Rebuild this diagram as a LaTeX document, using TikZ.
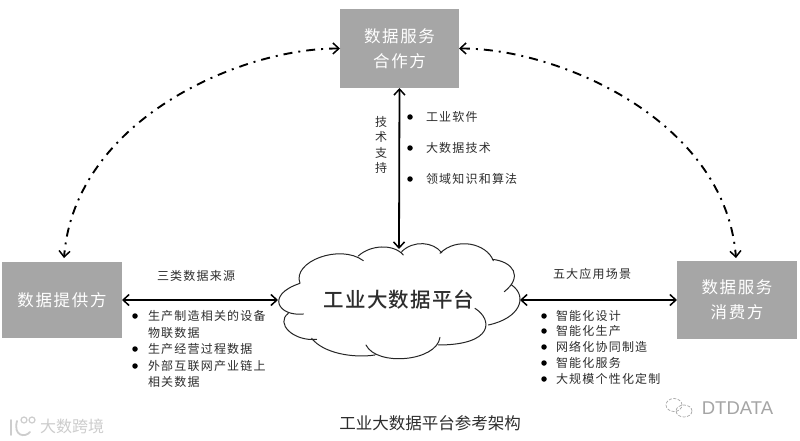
\documentclass[tikz,border=0pt]{standalone}
\usepackage{fontspec}
\setmainfont{Noto Sans CJK SC}
\newfontfamily\lsfont[LetterSpace=10]{Noto Sans CJK SC}
\newfontfamily\lsbold[LetterSpace=6]{Noto Sans CJK SC Medium}
\newfontfamily\latinf{Liberation Sans}
\usetikzlibrary{arrows.meta}
\definecolor{boxgray}{RGB}{166,166,166}
\definecolor{txt}{RGB}{45,45,45}
\definecolor{wm}{RGB}{205,205,205}
\definecolor{wmd}{RGB}{165,165,165}
\tikzset{
  every node/.style={inner sep=0pt,outer sep=0pt,text=txt},
  boxn/.style={fill=boxgray,text=white,align=center,font=\lsfont\fontsize{16.5}{25}\selectfont},
  lab/.style={font=\lsfont\fontsize{12}{13}\selectfont,anchor=west},
  item/.style={font=\lsfont\fontsize{12}{13}\selectfont,anchor=west},
  dotn/.style={circle,fill=black,minimum size=5.5pt},
  solidarrow/.style={draw=black,line width=1.8pt,{Straight Barb[length=6pt,width=11pt,line width=1.5pt]}-{Straight Barb[length=6pt,width=11pt,line width=1.5pt]}},
  dasharrow/.style={draw=black,line width=1.9pt,dash pattern=on 9pt off 6pt on 2pt off 6pt,{Straight Barb[length=6pt,width=11pt,line width=1.5pt]}-{Straight Barb[length=6pt,width=11pt,line width=1.5pt]}},
  cloudline/.style={draw=black!85,line width=1pt,line cap=round}
}
\begin{document}
\begin{tikzpicture}[x=1pt,y=-1pt]
\useasboundingbox (0,0) rectangle (800,441);
\fill[white] (0,0) rectangle (800,441);
% boxes
\node[boxn,minimum width=119pt,minimum height=79pt] (top) at (399.5,48.5) {数据服务\\合作方};
\node[boxn,minimum width=120pt,minimum height=76pt] (left) at (62,300) {数据提供方};
\node[boxn,minimum width=120pt,minimum height=78pt] (right) at (737,300) {数据服务\\消费方};
% cloud
\begin{scope}[shift={(260,230)},x=0.3333pt,y=-0.3333pt]
\filldraw[cloudline,fill=white]
 (120,160) .. controls (95,95) and (240,40) .. (310,92)
 (295,78) .. controls (330,45) and (400,40) .. (430,75)
 (425,65) .. controls (460,30) and (520,35) .. (545,68)
 (540,70) .. controls (590,20) and (680,40) .. (700,92)
 (697,88) .. controls (760,95) and (790,140) .. (733,185)
 (755,165) .. controls (805,200) and (780,265) .. (685,285)
 (645,235) .. controls (700,270) and (700,345) .. (535,345)
 (540,322) .. controls (530,395) and (350,410) .. (318,345)
 (345,375) .. controls (280,385) and (190,370) .. (155,325)
 (170,328) .. controls (100,335) and (45,280) .. (85,250)
 (130,252) .. controls (55,260) and (15,195) .. (120,160);
\end{scope}
\node[font=\fontsize{21.5}{24}\selectfont,minimum width=242pt,minimum height=102pt] (cloudn) at (399,300) {\lsbold\fontsize{20.5}{24}\selectfont 工业大数据平台};
% connectors
\coordinate (ls) at (123,300);
\draw[solidarrow] (top.south) -- (cloudn.north);
\draw[solidarrow] (left.east) -- (cloudn.west);
\draw[solidarrow] (cloudn.east) -- (right.west);
\coordinate (tl) at (top.west);
\coordinate (tr) at (top.east);
\coordinate (le) at (64,258);
\coordinate (re) at (736,258);
\draw[dasharrow] (tl) .. controls (240,48) and (75,120) .. (le);
\draw[dasharrow] (tr) .. controls (558,48) and (725,120) .. (re);
% labels
\node[font=\fontsize{12}{14.5}\selectfont,align=center] (jishu) at (381,145) {技\\[1pt]术\\[1pt]支\\[1pt]持};
\node[lab] (src) at (157,276) {三类数据来源};
\node[lab] (scene) at (553,274) {五大应用场景};
% top list
\node[dotn] (d1) at (410,117) {}; \node[item] (t1) at (426,117) {工业软件};
\node[dotn] (d2) at (410,148) {}; \node[item] (t2) at (426,148) {大数据技术};
\node[dotn] (d3) at (410,179) {}; \node[item] (t3) at (426,179) {领域知识和算法};
% left list
\node[dotn] (l1) at (135,316) {}; \node[item] (lt1) at (148,316) {生产制造相关的设备};
\node[item] (lt1b) at (148,333) {物联数据};
\node[dotn] (l2) at (135,349) {}; \node[item] (lt2) at (148,349) {生产经营过程数据};
\node[dotn] (l3) at (135,366) {}; \node[item] (lt3) at (148,366) {外部互联网产业链上};
\node[item] (lt3b) at (148,382) {相关数据};
% right list
\node[dotn] (r1) at (544,316) {}; \node[item] (rt1) at (556,316) {智能化设计};
\node[dotn] (r2) at (544,331) {}; \node[item] (rt2) at (556,331) {智能化生产};
\node[dotn] (r3) at (544,347) {}; \node[item] (rt3) at (556,347) {网络化协同制造};
\node[dotn] (r4) at (544,363) {}; \node[item] (rt4) at (556,363) {智能化服务};
\node[dotn] (r5) at (544,379) {}; \node[item] (rt5) at (556,379) {大规模个性化定制};
% caption
\node[font=\fontsize{16.5}{18}\selectfont] (cap) at (430,423) {工业大数据平台参考架构};
% watermarks
\node[font=\fontsize{16}{18}\selectfont,text=wm] (wm1) at (72,426) {大数跨境};
\draw[wm,line width=1.8pt,line cap=round] (11,420) -- (11,435) (17,421) .. controls (13,436) and (25,438) .. (30,432);
\draw[wm,line width=1.2pt] (24,420) circle (3pt) (32,420) circle (3pt);
\node[font=\latinf\fontsize{18.5}{21}\selectfont,text=wmd] (wm2) at (737.5,408) {DTDATA};
\draw[wmd,line width=0.7pt,dash pattern=on 3pt off 1.5pt] (674,405) ellipse (8pt and 6.5pt) (684,411) ellipse (8pt and 6pt);
\end{tikzpicture}
\end{document}
